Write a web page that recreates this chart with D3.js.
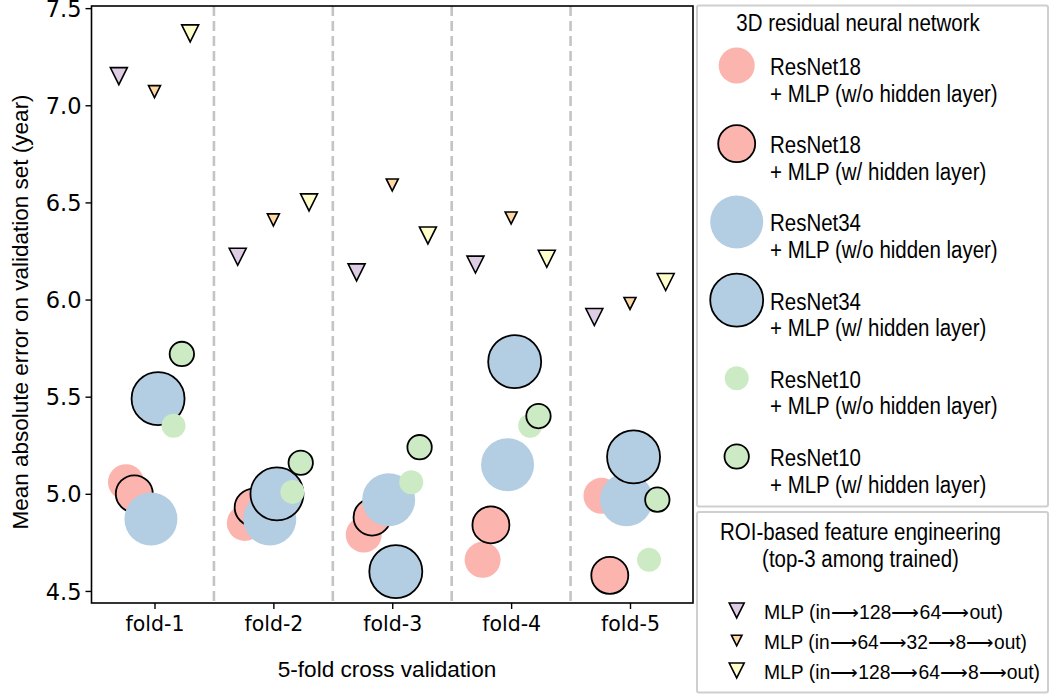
<!DOCTYPE html>
<html>
<head>
<meta charset="utf-8">
<script src="https://cdn.jsdelivr.net/npm/d3@7/dist/d3.min.js"></script>
<style>
	body { margin: 0; background: #fff; }
	svg { display: block; }
</style>
</head>
<body>
<div id="chart"></div>
<script>
// values (mean absolute error, years)
var folds = ['fold-1', 'fold-2', 'fold-3', 'fold-4', 'fold-5'];
var yTicks = [4.5, 5.0, 5.5, 6.0, 6.5, 7.0, 7.5];

var resnet18NoHidden = [5.06, 4.85, 4.79, 4.66, 4.99];
var resnet18Hidden   = [5.00, 4.93, 4.88, 4.84, 4.58];
var resnet34NoHidden = [4.87, 4.87, 4.97, 5.15, 4.97];
var resnet34Hidden   = [5.49, 5.00, 4.60, 5.68, 5.19];
var resnet10NoHidden = [5.35, 5.01, 5.06, 5.35, 4.66];
var resnet10Hidden   = [5.72, 5.16, 5.24, 5.40, 4.97];

var mlp128_64   = [7.15, 6.22, 6.14, 6.18, 5.91];
var mlp64_32_8  = [7.07, 6.41, 6.59, 6.42, 5.98];
var mlp128_64_8 = [7.37, 6.50, 6.33, 6.21, 6.09];

var width = 1050,
	height = 694,
	plot = { left: 91.5, right: 693, top: 6, bottom: 603 };

var labelFont = '"Liberation Sans", Arial, sans-serif',
	tickFont = '"DejaVu Sans", sans-serif';

// circle series, in drawing order
var cnnSeries = [
	{ values: resnet18NoHidden, color: '#fbb4ae', r: 18, edge: false, off: -0.24, name: ['ResNet18', '+ MLP (w/o hidden layer)'] },
	{ values: resnet18Hidden,   color: '#fbb4ae', r: 18.5, edge: true, off: -0.17, name: ['ResNet18', '+ MLP (w/ hidden layer)'] },
	{ values: resnet34NoHidden, color: '#b3cde3', r: 26.5, edge: false, off: -0.03, name: ['ResNet34', '+ MLP (w/o hidden layer)'] },
	{ values: resnet34Hidden,   color: '#b3cde3', r: 26.5, edge: true, off: 0.03, name: ['ResNet34', '+ MLP (w/ hidden layer)'] },
	{ values: resnet10NoHidden, color: '#ccebc5', r: 12, edge: false, off: 0.16, name: ['ResNet10', '+ MLP (w/o hidden layer)'] },
	{ values: resnet10Hidden,   color: '#ccebc5', r: 12.2, edge: true, off: 0.23, name: ['ResNet10', '+ MLP (w/ hidden layer)'] }
];

// len = width of the legend text in the reference
var mlpSeries = [
	{ values: mlp128_64,   color: '#decbe4', s: 8.5, off: -0.3, len: 239, name: 'MLP (in\u27f6128\u27f664\u27f6out)' },
	{ values: mlp64_32_8,  color: '#fed9a6', s: 6,   off: 0,    len: 263, name: 'MLP (in\u27f664\u27f632\u27f68\u27f6out)' },
	{ values: mlp128_64_8, color: '#ffffcc', s: 8.5, off: 0.3,  len: 276, name: 'MLP (in\u27f6128\u27f664\u27f68\u27f6out)' }
];

var svg = d3.select('#chart').append('svg')
	.attr('width', width)
	.attr('height', height);

var x = d3.scaleLinear().domain([-0.53, folds.length - 0.47]).range([plot.left, plot.right]);
var y = d3.scaleLinear().domain([4.438, 7.511]).range([plot.bottom, plot.top]);

// downward triangle, centred on its bounding box like matplotlib's 'v'
function triPath(s) {
	return 'M' + (-s) + ',' + (-s) + 'L' + s + ',' + (-s) + 'L0,' + s + 'Z';
}

function addText(parent, tx, ty, str, size, sx, anchor) {
	return parent.append('text')
		.attr('transform', 'translate(' + tx + ',' + ty + ') scale(' + sx + ',1)')
		.attr('font-family', labelFont)
		.attr('font-size', size)
		.attr('text-anchor', anchor || 'start')
		.attr('fill', '#000')
		.text(str);
}

// fold separators
svg.append('g').selectAll('line')
	.data(d3.range(folds.length - 1))
	.enter().append('line')
	.attr('x1', (d) => x(d + 0.5))
	.attr('x2', (d) => x(d + 0.5))
	.attr('y1', plot.top)
	.attr('y2', plot.bottom)
	.attr('stroke', '#c4c4c4')
	.attr('stroke-width', 2.6)
	.attr('stroke-dasharray', '10,5');

// circles
var marks = svg.append('g').attr('class', 'marks');
cnnSeries.forEach(function(s) {
	marks.append('g').selectAll('circle')
		.data(s.values)
		.enter().append('circle')
		.attr('cx', (d, i) => x(i + s.off))
		.attr('cy', (d) => y(d))
		.attr('r', s.r)
		.attr('fill', s.color)
		.attr('stroke', s.edge ? '#000' : 'none')
		.attr('stroke-width', 1.8);
});

// triangles
mlpSeries.forEach(function(s) {
	marks.append('g').selectAll('path')
		.data(s.values)
		.enter().append('path')
		.attr('d', triPath(s.s))
		.attr('transform', (d, i) => 'translate(' + x(i + s.off) + ',' + y(d) + ')')
		.attr('fill', s.color)
		.attr('stroke', '#000')
		.attr('stroke-width', 1.6)
		.attr('stroke-linejoin', 'miter');
});

// frame
svg.append('rect')
	.attr('x', plot.left)
	.attr('y', plot.top)
	.attr('width', plot.right - plot.left)
	.attr('height', plot.bottom - plot.top)
	.attr('fill', 'none')
	.attr('stroke', '#000')
	.attr('stroke-width', 1.6);

// axes
var yAxis = d3.axisLeft(y).tickValues(yTicks).tickFormat(d3.format('.1f')).tickSize(6).tickPadding(4);
var xAxis = d3.axisBottom(x).tickValues(d3.range(folds.length)).tickFormat((i) => folds[i]).tickSize(6).tickPadding(6);

var gy = svg.append('g')
	.attr('transform', 'translate(' + plot.left + ',0)')
	.call(yAxis);
var gx = svg.append('g')
	.attr('transform', 'translate(0,' + plot.bottom + ')')
	.call(xAxis);

[gx, gy].forEach(function(g) {
	g.select('.domain').remove();
	g.selectAll('.tick line').attr('stroke', '#000').attr('stroke-width', 1.4);
	g.selectAll('.tick text')
		.attr('font-family', tickFont)
		.attr('font-size', 20.5)
		.attr('fill', '#000');
});
gy.selectAll('.tick text').attr('dy', '0.36em').attr('font-size', 22.5);
gx.selectAll('.tick text').attr('dy', '0.76em');

// axis titles
svg.append('text')
	.attr('transform', 'translate(28,312) rotate(-90)')
	.attr('font-family', labelFont)
	.attr('font-size', 22.5)
	.attr('text-anchor', 'middle')
	.text('Mean absolute error on validation set (year)');

addText(svg, 387, 676.5, '5-fold cross validation', 22.6, 1, 'middle');

// legend 1: residual networks
var legSize = 23, legSx = 0.89;
var leg1 = svg.append('g');
leg1.append('rect')
	.attr('x', 697).attr('y', 5.5)
	.attr('width', 351).attr('height', 501)
	.attr('rx', 2)
	.attr('fill', '#fff')
	.attr('stroke', '#cfcfcf')
	.attr('stroke-width', 2);
addText(leg1, 858, 31, '3D residual neural network', legSize, legSx, 'middle');

cnnSeries.forEach(function(s, i) {
	var cy = 65.5 + i * 78.2;
	leg1.append('circle')
		.attr('cx', 736.7)
		.attr('cy', cy)
		.attr('r', s.r)
		.attr('fill', s.color)
		.attr('stroke', s.edge ? '#000' : 'none')
		.attr('stroke-width', 1.8);
	addText(leg1, 770, cy + 9.5, s.name[0], legSize, legSx);
	addText(leg1, 770, cy + 36, s.name[1], legSize, legSx);
});

// legend 2: ROI-based models
var leg2 = svg.append('g');
leg2.append('rect')
	.attr('x', 697).attr('y', 512)
	.attr('width', 351).attr('height', 180.5)
	.attr('rx', 2)
	.attr('fill', '#fff')
	.attr('stroke', '#cfcfcf')
	.attr('stroke-width', 2);
addText(leg2, 860.5, 540, 'ROI-based feature engineering', legSize, legSx, 'middle');
addText(leg2, 860.5, 567, '(top-3 among trained)', legSize, legSx, 'middle');

mlpSeries.forEach(function(s, i) {
	var base = 618.5 + i * 30;
	leg2.append('path')
		.attr('d', triPath(s.s * 0.88))
		.attr('transform', 'translate(736.7,' + (base - 8) + ')')
		.attr('fill', s.color)
		.attr('stroke', '#000')
		.attr('stroke-width', 1.6);
	// squeeze the long arrows into the reference width
	addText(leg2, 764, base, s.name, 20, 1)
		.attr('textLength', s.len)
		.attr('lengthAdjust', 'spacingAndGlyphs');
});
</script>
</body>
</html>
